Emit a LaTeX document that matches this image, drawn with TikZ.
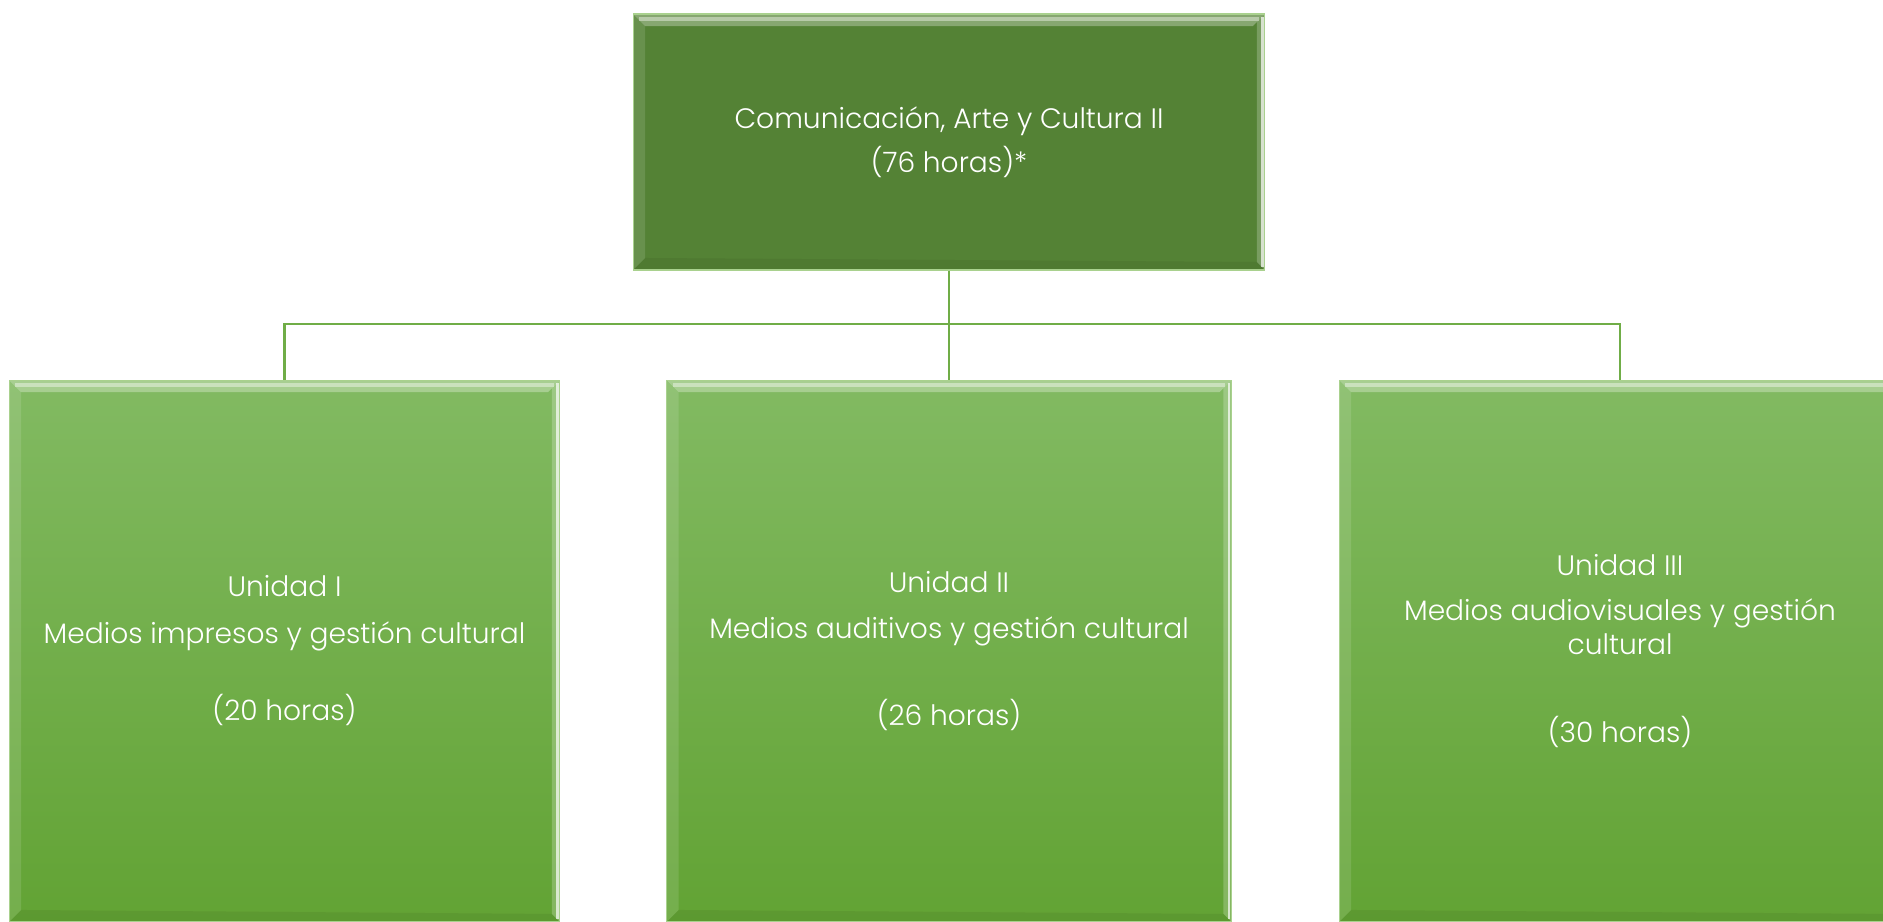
\documentclass[tikz,border=0pt]{standalone}
\usepackage{fontspec}
\setmainfont{Poppins}[UprightFont=* Light]
\usetikzlibrary{positioning}

\definecolor{rootgreen}{HTML}{548235}
\definecolor{unittop}{HTML}{82BA62}
\definecolor{unitbot}{HTML}{62A334}
\definecolor{linkgreen}{HTML}{70AD47}
\definecolor{rimgreen}{HTML}{A9D18E}

\tikzset{
	bevel/.style={path picture={
		\fill[white,opacity=.30] (path picture bounding box.north west) -- (path picture bounding box.north east) -- ([shift={(-0.24cm,-0.24cm)}]path picture bounding box.north east) -- ([shift={(0.24cm,-0.24cm)}]path picture bounding box.north west) -- cycle;
		\draw[white,opacity=.4,line width=2.5pt] ([shift={(0.12cm,-0.1cm)}]path picture bounding box.north west) -- ([shift={(-0.12cm,-0.1cm)}]path picture bounding box.north east);
		\fill[white,opacity=.12] (path picture bounding box.north west) -- ([shift={(0.24cm,-0.24cm)}]path picture bounding box.north west) -- ([shift={(0.24cm,0.24cm)}]path picture bounding box.south west) -- (path picture bounding box.south west) -- cycle;
		\fill[white,opacity=.22] (path picture bounding box.north east) -- (path picture bounding box.south east) -- ([shift={(-0.16cm,0.16cm)}]path picture bounding box.south east) -- ([shift={(-0.16cm,-0.16cm)}]path picture bounding box.north east) -- cycle;
		\draw[white,opacity=.7,line width=1.2pt] ([shift={(-0.05cm,-0.05cm)}]path picture bounding box.north east) -- ([shift={(-0.05cm,0.05cm)}]path picture bounding box.south east);
		\fill[black,opacity=.06] (path picture bounding box.south west) -- (path picture bounding box.south east) -- ([shift={(-0.16cm,0.16cm)}]path picture bounding box.south east) -- ([shift={(0.24cm,0.24cm)}]path picture bounding box.south west) -- cycle;
	}},
	rootbox/.style={bevel, draw=rimgreen, line width=0.6pt, fill=rootgreen, text=white, align=center, inner sep=0pt, minimum width=12.64cm, minimum height=5.12cm},
	unitbox/.style={bevel, draw=rimgreen, line width=0.6pt, top color=unittop, bottom color=unitbot, text=white, align=center, inner sep=0pt, minimum height=10.84cm},
	link/.style={draw=linkgreen, line width=1.4pt},
}

\begin{document}
\begin{tikzpicture}[x=0.02cm, y=-0.02cm, font=\fontsize{16}{19.3}\selectfont]
			%%%%% START %%%%%
			
			\useasboundingbox (0,0) rectangle (1883,922);
			
			\node[rootbox] (root) at (949,142) {Comunicación, Arte y Cultura II\\[5.6pt](76 horas)*};
			
			\node[unitbox, minimum width=11.02cm] (unitA) at (284.5,651) {Unidad I\\[7pt]Medios impresos y gestión cultural\\[25pt](20 horas)};
			\node[unitbox, minimum width=11.3cm] (unitB) at (949,651) {Unidad II\\[7pt]Medios auditivos y gestión cultural\\[30pt](26 horas)};
			\node[unitbox, minimum width=11.24cm] (unitC) at (1620,651) {Unidad III\\[6.5pt]Medios audiovisuales y gestión\\cultural\\[31pt](30 horas)};
			
			\coordinate (bus) at (949,324);
			\draw[link] (root.south) -- (unitB.north);
			\draw[link] (unitA.north) |- (bus) -| (unitC.north);
			
			%%%%% END %%%%%
\end{tikzpicture}
\end{document}
